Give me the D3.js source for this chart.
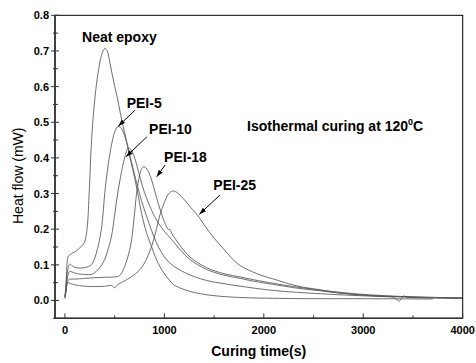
<!DOCTYPE html>
<html><head><meta charset="utf-8">
<script src="https://cdn.jsdelivr.net/npm/d3@7"></script>
<style>
html,body{margin:0;padding:0;background:#fff;}
svg{display:block;font-family:"Liberation Sans",Arial,Helvetica,sans-serif;}
</style></head><body>
<svg id="chart" width="476" height="363"></svg>
<script>
// Isothermal DSC curing at 120 °C: heat flow (mW) vs curing time (s)
const neatEpoxy = [[0,0.005],[8,0.03],[15,0.07],[25,0.115],[35,0.125],[50,0.128],[80,0.134],[110,0.138],[150,0.148],[180,0.156],[200,0.166],[215,0.185],[230,0.225],[240,0.28],[250,0.34],[262,0.42],[280,0.5],[310,0.59],[340,0.65],[370,0.69],[401,0.707],[425,0.7],[451,0.668],[475,0.635],[501,0.6],[530,0.565],[551,0.534],[575,0.5],[602,0.469],[630,0.435],[652,0.403],[680,0.37],[705,0.338],[740,0.29],[770,0.245],[820,0.19],[871,0.151],[920,0.115],[955,0.095],[1000,0.075],[1050,0.057],[1090,0.045],[1150,0.036],[1250,0.026],[1400,0.017],[1600,0.011],[1800,0.008],[2100,0.006],[2600,0.005],[3000,0.005],[3700,0.004]];
const pei5 = [[0,0.012],[10,0.04],[20,0.07],[35,0.095],[50,0.102],[70,0.098],[100,0.093],[150,0.091],[200,0.092],[240,0.096],[266,0.1],[290,0.112],[316,0.133],[340,0.16],[367,0.2],[385,0.25],[400,0.3],[425,0.36],[451,0.41],[480,0.452],[505,0.476],[534,0.488],[560,0.485],[590,0.47],[620,0.443],[650,0.41],[690,0.365],[730,0.32],[770,0.28],[820,0.237],[870,0.197],[920,0.162],[970,0.135],[1020,0.115],[1090,0.097],[1200,0.079],[1300,0.067],[1425,0.056],[1600,0.047],[1740,0.041],[2100,0.028],[2567,0.019],[3000,0.013],[3500,0.009],[4000,0.006]];
const pei10 = [[0,0.01],[10,0.03],[20,0.055],[35,0.075],[50,0.082],[70,0.08],[100,0.077],[150,0.074],[200,0.073],[266,0.073],[300,0.078],[333,0.087],[370,0.1],[400,0.115],[430,0.14],[468,0.18],[500,0.24],[530,0.3],[560,0.348],[602,0.402],[636,0.427],[665,0.423],[695,0.405],[725,0.377],[760,0.34],[800,0.303],[850,0.267],[890,0.242],[940,0.217],[1000,0.194],[1050,0.178],[1090,0.165],[1150,0.145],[1257,0.115],[1425,0.087],[1600,0.071],[1763,0.062],[1900,0.054],[2098,0.045],[2300,0.036],[2567,0.027],[2800,0.02],[3000,0.015],[3200,0.011],[3300,0.009],[3340,0.002],[3360,-0.002],[3385,0.006],[3410,0.013],[3440,0.009],[3500,0.008],[4000,0.006]];
const pei18 = [[0,0.008],[10,0.025],[20,0.045],[35,0.058],[60,0.06],[100,0.06],[200,0.062],[300,0.064],[400,0.065],[500,0.066],[551,0.07],[600,0.095],[640,0.13],[670,0.17],[700,0.245],[725,0.31],[750,0.35],[770,0.368],[790,0.375],[815,0.372],[845,0.358],[875,0.335],[905,0.305],[945,0.266],[985,0.232],[1020,0.208],[1040,0.199],[1052,0.2],[1062,0.197],[1075,0.188],[1100,0.177],[1150,0.157],[1257,0.122],[1425,0.092],[1600,0.075],[1763,0.066],[1900,0.058],[2098,0.048],[2300,0.039],[2567,0.029],[2800,0.022],[3000,0.017],[3500,0.01],[4000,0.007]];
const pei25 = [[0,0.01],[10,0.025],[20,0.045],[35,0.05],[60,0.047],[100,0.044],[200,0.04],[300,0.039],[400,0.04],[470,0.042],[490,0.038],[502,0.035],[515,0.04],[540,0.046],[600,0.055],[660,0.065],[753,0.086],[800,0.105],[871,0.151],[920,0.2],[955,0.24],[1000,0.275],[1040,0.298],[1080,0.307],[1120,0.304],[1170,0.292],[1223,0.275],[1280,0.256],[1340,0.237],[1400,0.212],[1500,0.175],[1594,0.145],[1680,0.118],[1750,0.1],[1850,0.085],[2000,0.068],[2100,0.06],[2250,0.047],[2400,0.037],[2567,0.03],[2730,0.022],[3065,0.014],[3500,0.01],[4000,0.007]];

const seriesList = [neatEpoxy, pei5, pei10, pei18, pei25];

const xTickValues = [0, 1000, 2000, 3000, 4000];
const xMinorValues = [500, 1500, 2500, 3500];
const yTickValues = [0.0, 0.1, 0.2, 0.3, 0.4, 0.5, 0.6, 0.7, 0.8];
const yMinorValues = [-0.05, 0.05, 0.15, 0.25, 0.35, 0.45, 0.55, 0.65, 0.75];

// Curve labels: text anchor and the point on the curve the arrow points at (data units)
const labelNames = ["Neat epoxy", "PEI-5", "PEI-10", "PEI-18", "PEI-25"];
const labelAt = [[172, 0.726], [621, 0.539], [846, 0.467], [997, 0.388], [1492, 0.31]];
const arrowFrom = [null, [705, 0.534], [823, 0.459], [1007, 0.38], [1560, 0.296]];
const arrowTo = [null, [537, 0.489], [614, 0.403], [923, 0.347], [1352, 0.242]];
const noteText = "Isothermal curing at 120";
const noteAt = [1831, 0.476];

const svg = d3.select("#chart");
const x = d3.scaleLinear().domain([-100, 4000]).range([55, 462.7]);
const y = d3.scaleLinear().domain([-0.05, 0.8]).range([318.3, 15.3]);

const defs = svg.append("defs");
defs.append("clipPath").attr("id", "plotClip")
  .append("rect").attr("x", x(-100)).attr("y", y(0.8))
  .attr("width", x(4000) - x(-100)).attr("height", y(-0.05) - y(0.8));
defs.append("marker").attr("id", "arrowHead")
  .attr("viewBox", "0 0 10 10").attr("refX", 10).attr("refY", 5)
  .attr("markerWidth", 7).attr("markerHeight", 7).attr("markerUnits", "userSpaceOnUse")
  .attr("orient", "auto")
  .append("path").attr("d", "M0,1.5 L10,5 L0,8.5 Z").attr("fill", "#000");

// curves
const line = d3.line().x(d => x(d[0])).y(d => y(d[1])).curve(d3.curveCatmullRom.alpha(0.5));
svg.append("g").attr("clip-path", "url(#plotClip)")
  .selectAll("path").data(seriesList).join("path")
  .attr("d", line).attr("fill", "none")
  .attr("stroke", "#555").attr("stroke-width", 0.85);

// frame
svg.append("rect").attr("x", x(-100)).attr("y", y(0.8))
  .attr("width", x(4000) - x(-100)).attr("height", y(-0.05) - y(0.8))
  .attr("fill", "none").attr("stroke", "#000").attr("stroke-width", 1);
svg.append("line").attr("x1", x(-100)).attr("x2", x(-100)).attr("y1", y(0.8)).attr("y2", y(-0.05) + 0.8)
  .attr("stroke", "#333").attr("stroke-width", 1.6);
svg.append("line").attr("x1", x(-100) - 0.8).attr("x2", x(4000)).attr("y1", y(-0.05)).attr("y2", y(-0.05))
  .attr("stroke", "#333").attr("stroke-width", 1.6);

// x ticks (inward)
const xb = y(-0.05);
svg.append("g").selectAll("line").data(xTickValues).join("line")
  .attr("x1", d => x(d)).attr("x2", d => x(d)).attr("y1", xb).attr("y2", xb - 5)
  .attr("stroke", "#333").attr("stroke-width", 1);
svg.append("g").selectAll("line").data(xMinorValues).join("line")
  .attr("x1", d => x(d)).attr("x2", d => x(d)).attr("y1", xb).attr("y2", xb - 3)
  .attr("stroke", "#333").attr("stroke-width", 1);
svg.append("g").selectAll("text").data(xTickValues).join("text")
  .attr("x", d => x(d)).attr("y", xb + 16).attr("text-anchor", "middle")
  .attr("font-size", 11).attr("font-weight", "bold").text(d => d);

// y ticks (crossing the axis)
const xl = x(-100);
svg.append("g").selectAll("line").data(yTickValues).join("line")
  .attr("x1", xl - 4).attr("x2", xl + 4).attr("y1", d => y(d)).attr("y2", d => y(d))
  .attr("stroke", "#333").attr("stroke-width", 1);
svg.append("g").selectAll("line").data(yMinorValues).join("line")
  .attr("x1", xl - 2).attr("x2", xl + 3).attr("y1", d => y(d)).attr("y2", d => y(d))
  .attr("stroke", "#333").attr("stroke-width", 1);
svg.append("g").selectAll("text").data(yTickValues).join("text")
  .attr("x", xl - 6).attr("y", d => y(d) + 4).attr("text-anchor", "end")
  .attr("font-size", 11).attr("font-weight", "bold").text(d => d.toFixed(1));

// axis titles
svg.append("text").attr("transform", `translate(23,${(y(0.8) + y(-0.05)) / 2 + 9}) rotate(-90)`)
  .attr("text-anchor", "middle").attr("font-size", 14).text("Heat flow (mW)");
svg.append("text").attr("x", 258.7).attr("y", 355.5).attr("text-anchor", "middle")
  .attr("font-size", 14).attr("font-weight", "bold").text("Curing time(s)");

// curve labels and arrows
labelNames.forEach((name, i) => {
  svg.append("text").attr("x", x(labelAt[i][0])).attr("y", y(labelAt[i][1]))
    .attr("font-size", 14).attr("font-weight", "bold").text(name);
  if (arrowFrom[i]) {
    svg.append("line")
      .attr("x1", x(arrowFrom[i][0])).attr("y1", y(arrowFrom[i][1]))
      .attr("x2", x(arrowTo[i][0])).attr("y2", y(arrowTo[i][1]))
      .attr("stroke", "#000").attr("stroke-width", 1)
      .attr("marker-end", "url(#arrowHead)");
  }
});

const note = svg.append("text").attr("x", x(noteAt[0])).attr("y", y(noteAt[1]))
  .attr("font-size", 14).attr("font-weight", "bold");
note.append("tspan").text(noteText);
note.append("tspan").attr("dy", -6).attr("font-size", 9).text("0");
note.append("tspan").attr("dy", 6).text("C");
</script>
</body></html>
